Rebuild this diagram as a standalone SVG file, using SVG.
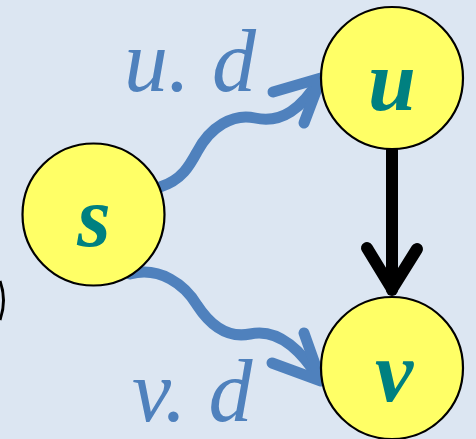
<svg xmlns="http://www.w3.org/2000/svg" width="476" height="439" viewBox="0 0 476 439">
<style>
.node circle{fill:#ffff66;stroke:#000;stroke-width:2.2}
.nl{font-family:"Liberation Serif",serif;font-style:italic;font-weight:bold;font-size:86px;fill:#008080;text-anchor:middle}
.el{font-family:"Liberation Serif",serif;font-style:italic;font-size:88px;fill:#4f81bd}
.wave{fill:none;stroke:#4f81bd;stroke-width:11;stroke-linecap:round;stroke-linejoin:round}
.blk{fill:none;stroke:#000;stroke-width:12;stroke-linecap:round;stroke-linejoin:round}
</style>
<rect width="476" height="439" fill="#dce6f2"/>
<path d="M0,281 Q7,300 0,320" fill="none" stroke="#000" stroke-width="3"/>
<g id="connectors">
<path class="wave" d="M160,187 C182,180 190,165 197,152 C210,127 233,113 255,118 C282,124 302,108 320,79"/>
<path class="wave" d="M273,92 L321,78 L304,123"/>
<path class="wave" d="M130,274 C160,266 185,285 197,305 C212,328 230,338 250,334 C277,328 300,348 320,380"/>
<path class="wave" d="M272,363 L321,381 L304,333"/>
<path class="blk" d="M392,150 L392,290"/>
<path class="blk" d="M367,248 L392,289 L417,249"/>
</g>
<text class="el" x="124" y="91">u. d</text>
<text class="el" x="132" y="421">v. d</text>
<g id="s" class="node"><circle cx="93.5" cy="214.5" r="71"/><text class="nl" x="94" y="246">s</text></g>
<g id="u" class="node"><circle cx="392" cy="78" r="71"/><text class="nl" x="392" y="110">u</text></g>
<g id="v" class="node"><circle cx="392" cy="368" r="71"/><text class="nl" x="394" y="401">v</text></g>
</svg>
